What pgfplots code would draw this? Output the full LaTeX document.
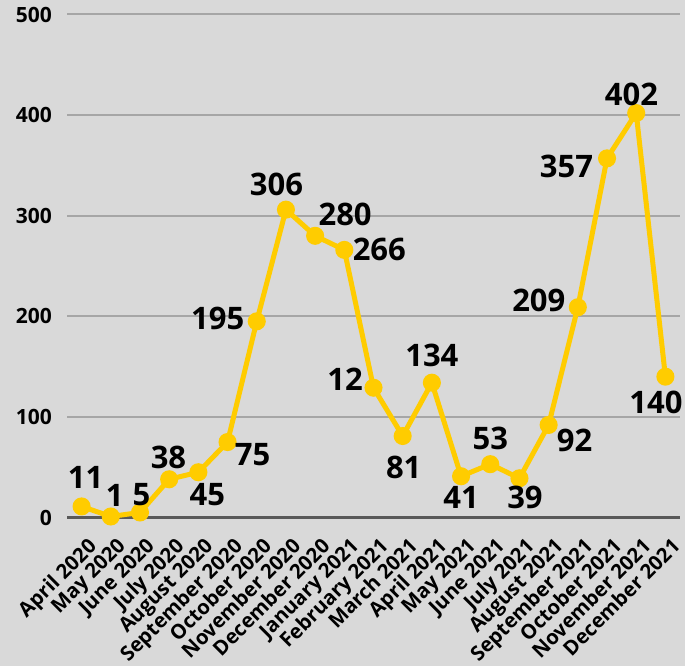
\documentclass[border=0pt]{standalone}
\usepackage{pgfplots}
\pgfplotsset{compat=1.18}
\usepackage{pgfplotstable}
\usepackage{fontspec}
\setmainfont{Open Sans}
\definecolor{bgc}{HTML}{D9D9D9}
\definecolor{gridc}{HTML}{A6A6A6}
\definecolor{axisc}{HTML}{595959}
\definecolor{linec}{HTML}{FFCC00}
\pgfplotstableread{
x y lab dx dy
0 11 11 4 29
1 1 1 4 21.5
2 5 5 1.5 17.5
3 38 38 -0.7 22
4 45 45 9 -22
5 75 75 25 -13
6 195 195 -39 3
7 306 306 -9.5 25.5
8 280 280 30 21
9 266 266 35 0
10 129 12 -28.5 8
11 81 81 1 -31
12 134 134 0 27
13 41 41 0 -21
14 53 53 0 26
15 39 39 5.5 -19
16 92 92 26 -15.5
17 209 209 -39 7
18 357 357 -40.5 -7.6
19 402 402 -4.7 19
20 140 140 -9.5 -26
}\datatable
\begin{document}
\begin{tikzpicture}
\fill[bgc] (0,0) rectangle (685bp,666bp);
\useasboundingbox (0,0) rectangle (685bp,666bp);
\begin{axis}[
  at={(67bp,148.5bp)}, anchor=south west,
  scale only axis, width=613bp, height=503bp,
  xmin=-0.5, xmax=20.5, ymin=0, ymax=500,
  clip=false,
  axis x line=bottom, axis y line=left,
  x axis line style={-, draw=axisc, line width=2.5bp},
  y axis line style={draw=none},
  major tick length=0pt,
  ytick={0,100,...,500},
  ymajorgrids, grid style={draw=gridc, line width=2bp},
  xtick={0,...,20},
  xticklabels={April 2020, May 2020, June 2020, July 2020, August 2020, September 2020, October 2020, November 2020, December 2020, January 2021, February 2021, March 2021, April 2021, May 2021, June 2021, July 2021, August 2021, September 2021, October 2021, November 2021, December 2021},
  /pgf/number format/assume math mode=true,
  yticklabel style={font=\bfseries\fontsize{21bp}{21bp}\selectfont, text=black, anchor=east, inner sep=0pt, xshift=-15bp},
  xticklabel style={font=\bfseries\fontsize{20.3bp}{20.3bp}\selectfont, text=black, xshift=5bp, yshift=-19bp, rotate=45, anchor=north east, inner sep=0pt},
]
\addplot[color=linec, line width=5bp, mark=*, mark size=6.5bp,
  mark options={solid, fill=linec, draw=none},
  nodes near coords, point meta=explicit symbolic,
  visualization depends on={\thisrow{dx} \as \mydx},
  visualization depends on={\thisrow{dy} \as \mydy},
  every node near coord/.append style={anchor=center, xshift=\mydx bp, yshift=\mydy bp, inner sep=0pt, text=black, font=\bfseries\fontsize{31bp}{31bp}\selectfont},
] table[x=x, y=y, meta=lab] {\datatable};
\end{axis}
\end{tikzpicture}
\end{document}
